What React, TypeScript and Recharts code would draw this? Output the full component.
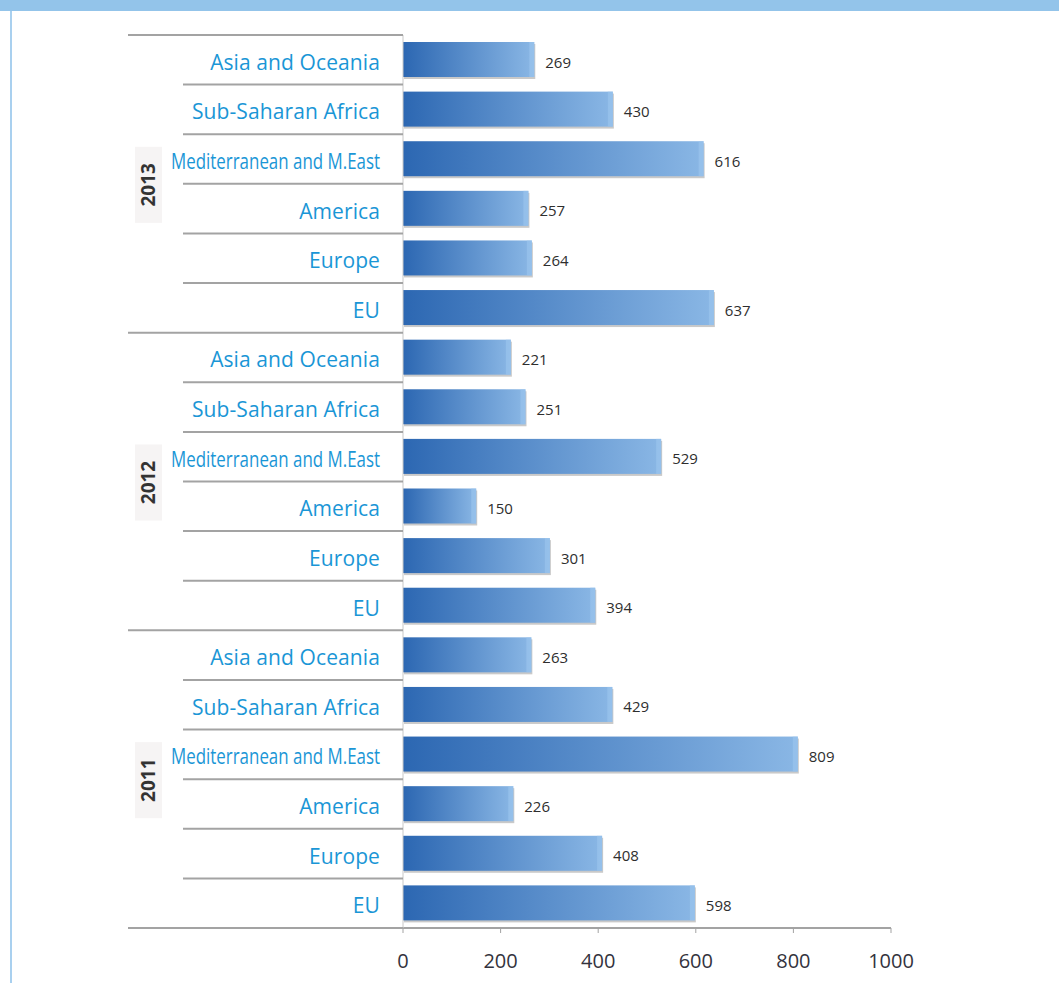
import React from "react";
import { BarChart, Bar, XAxis, YAxis, LabelList } from "recharts";

const years = ["2013", "2012", "2011"];
const regions = [
  "Asia and Oceania",
  "Sub-Saharan Africa",
  "Mediterranean and M.East",
  "America",
  "Europe",
  "EU",
];
const values2013 = [269, 430, 616, 257, 264, 637];
const values2012 = [221, 251, 529, 150, 301, 394];
const values2011 = [263, 429, 809, 226, 408, 598];
const xTicks = [0, 200, 400, 600, 800, 1000];

const seriesByYear = [values2013, values2012, values2011];
const rows = years.flatMap((yr, yi) =>
  regions.map((r, ri) => ({
    id: `${yr}-${ri}`,
    year: yr,
    region: r,
    first: ri === 0,
    value: seriesByYear[yi][ri],
  }))
);

const W = 1059;
const H = 983;
const TOP = 35;
const BOTTOM = 55;
const LEFT = 403;
const RIGHT = 168;
const BAND = (H - TOP - BOTTOM) / rows.length;

const YTick = (props: any) => {
  const { y, index } = props;
  const row = rows[index];
  if (!row) return null;
  const top = y - BAND / 2;
  const isMed = row.region.startsWith("Mediterranean");
  const els: any[] = [];
  els.push(
    <line
      key="sep"
      x1={row.first ? 128 : 183}
      x2={LEFT}
      y1={top}
      y2={top}
      stroke="#a3a3a3"
      strokeWidth={2}
    />
  );
  if (index === rows.length - 1) {
    els.push(
      <line key="bot" x1={128} x2={LEFT} y1={y + BAND / 2} y2={y + BAND / 2} stroke="#a3a3a3" strokeWidth={2} />
    );
  }
  els.push(
    <text
      key="lab"
      x={380}
      y={y + 2}
      textAnchor="end"
      dominantBaseline="central"
      fill="#1a96d6"
      fontFamily="'Open Sans', sans-serif"
      fontSize={isMed ? 21 : 21}
      letterSpacing={isMed ? 0 : 0.1}
      {...(isMed ? { textLength: 209, lengthAdjust: "spacingAndGlyphs" } : {})}
    >
      {row.region}
    </text>
  );
  if (index % regions.length === 2) {
    const cy = y + BAND / 2 + 1;
    els.push(
      <g key="yr">
        <rect x={135} y={cy - 38} width={27} height={76} fill="#f6f4f4" />
        <text
          x={148}
          y={cy}
          transform={`rotate(-90 148 ${cy})`}
          textAnchor="middle"
          dominantBaseline="central"
          fill="#333"
          fontWeight="bold"
          fontFamily="'Open Sans', sans-serif"
          fontSize={19}
        >
          {row.year}
        </text>
      </g>
    );
  }
  return <g>{els}</g>;
};

const BarShape = (props: any) => {
  const { x, y, width, height } = props;
  return (
    <g>
      <rect x={x + 1} y={y + 2} width={width} height={height} fill="#c9c9c9" />
      <rect x={x} y={y} width={width} height={height} fill="url(#barGrad)" />
      <rect x={x + width - 5} y={y} width={5} height={height} fill="#9cc6ee" opacity={0.6} />
    </g>
  );
};

const XTick = (props: any) => {
  const { x, y, payload } = props;
  return (
    <text
      x={x}
      y={y + 33}
      textAnchor="middle"
      fill="#33333d"
      fontFamily="'Open Sans', sans-serif"
      fontSize={20}
    >
      {payload.value}
    </text>
  );
};

const ValueLabel = (props: any) => {
  const { x, y, width, height, value } = props;
  return (
    <text
      x={x + width + 11}
      y={y + height / 2 + 2}
      dominantBaseline="central"
      fill="#2e2e2e"
      fontSize={15}
      fontFamily="'Open Sans', sans-serif"
    >
      {value}
    </text>
  );
};

export default function App() {
  return (
    <div style={{ position: "absolute", left: 0, top: 0, width: W, height: H, background: "#fff" }}>
      <div style={{ position: "absolute", left: 0, top: 0, width: W, height: 11, background: "#93c4ea" }} />
      <div style={{ position: "absolute", left: 10, top: 11, width: 2, height: H - 11, background: "#a9d0ef" }} />
      <div style={{ position: "absolute", left: 0, top: 0 }}>
        <BarChart
          width={W}
          height={H}
          data={rows}
          layout="vertical"
          margin={{ top: TOP, right: RIGHT, bottom: 0, left: 0 }}
          barCategoryGap={0}
        >
          <defs>
            <linearGradient id="barGrad" x1="0" y1="0" x2="1" y2="0">
              <stop offset="0%" stopColor="#2c67b2" />
              <stop offset="100%" stopColor="#8ab7e5" />
            </linearGradient>
          </defs>
          <XAxis
            type="number"
            domain={[0, 1000]}
            ticks={xTicks}
            height={BOTTOM}
            axisLine={{ stroke: "#a3a3a3", strokeWidth: 2 }}
            tickLine={{ stroke: "#a3a3a3" }}
            tickSize={5}
            tick={<XTick />}
            interval={0}
          />
          <YAxis
            type="category"
            dataKey="id"
            width={LEFT}
            axisLine={{ stroke: "#c8c8c8", strokeWidth: 1 }}
            tickLine={false}
            tick={<YTick />}
            interval={0}
          />
          <Bar dataKey="value" barSize={35} shape={<BarShape />} isAnimationActive={false}>
            <LabelList dataKey="value" content={<ValueLabel />} />
          </Bar>
        </BarChart>
      </div>
    </div>
  );
}
